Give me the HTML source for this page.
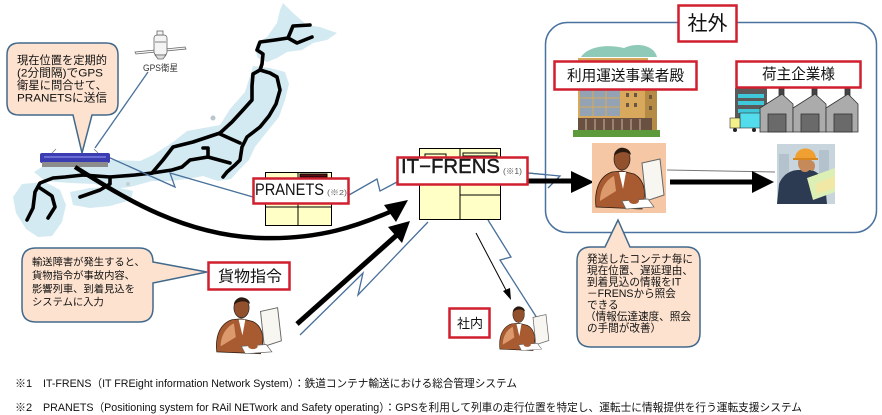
<!DOCTYPE html>
<html><head><meta charset="utf-8"><style>
html,body{margin:0;padding:0;background:#fff;}
svg{display:block;}
text{font-family:"Liberation Sans","Noto Sans CJK JP",sans-serif;}
</style></head><body>
<svg width="882" height="415" viewBox="0 0 882 415" xmlns="http://www.w3.org/2000/svg">
<rect width="882" height="415" fill="#fff"/>

<!-- Japan map land -->
<g fill="#d3eaf2">
<polygon points="283,3 293,13 307,25 320,27 337,33 327,40 313,43 302,50 287,52 277,58 267,62 258,58 255,50 257,43 267,37 277,23 280,10"/>
<polygon points="253,66 270,68 285,72 289,84 285,100 279,117 266,133 255,147 249,160 239,170 231,179 218,181 203,176 187,179 170,181 152,181 130,187 110,189 95,184 70,183 45,181 34,172 45,165 80,161 115,160 140,161 153,155 173,142 187,131 220,125 230,109 245,92 250,76"/>
<polygon points="22,184 45,182 60,190 66,205 62,222 52,236 38,237 26,229 16,213 13,197"/>
<polygon points="70,192 90,188 115,187 133,191 131,200 110,206 90,208 73,205"/>
</g>
<circle cx="213" cy="118" r="2.5" fill="#b9c6cc"/>
<circle cx="128" cy="184" r="2" fill="#c6cfd3"/>

<!-- rail lines -->
<g fill="none" stroke="#000" stroke-width="3.6" stroke-linejoin="round" stroke-linecap="round">
<polyline points="310,25 293,26 288,38 297,43 312,37"/>
<polyline points="288,38 275,40 260,42 257,50 263,54 262,64 260,70"/>
<polyline points="260,70 253,74 252,86 252,100 243,110 232,122 220,133 193,142 173,147 163,160 152,173"/>
<polyline points="260,70 270,73 277,77 280,90 276,104 269,116 260,127 247,137 242,147 240,160 235,165 227,172 223,177"/>
<polyline points="220,134 240,143"/>
<polyline points="203,148 208,148 208,157 230,163"/>
<polyline points="208,157 190,160 182,167 172,170 152,173"/>
<polyline points="152,173 135,175 110,177 83,175 65,177 53,178 40,183 35,192 33,208 27,220"/>
<polyline points="110,177 110,184 100,190 80,197"/>
<polyline points="40,188 52,196 55,207 48,218"/>
</g>

<!-- satellite -->
<g stroke="#666" stroke-width="0.8" fill="#f4f4f4">
<polygon points="135,52 185,47 186,49 136,54"/>
<rect x="154" y="35" width="13" height="20" rx="3"/>
<rect x="157" y="31" width="6" height="4"/>
<path d="M155,55 L166,55 L163,59 L158,59 Z" fill="#ddd"/>
<line x1="155" y1="42" x2="166" y2="42"/>
</g>
<text x="143" y="71" font-size="9" textLength="35" lengthAdjust="spacingAndGlyphs" fill="#333">GPS衛星</text>

<!-- blue lightning lines -->
<g fill="none" stroke="#48709a" stroke-width="1.3" stroke-linejoin="miter">
<polyline points="148,72 95,148"/>
<polyline points="108,157 175,187 170,173 253,197"/>
<polyline points="349,195 377,179 380,191 397,182"/>
<polyline points="528,173 560,176 548,188 595,188"/>
<polyline points="488,220 511,257 500,260 537,318"/>
<polyline points="300,335 363,273 358,295 428,222"/>
</g>

<!-- train -->
<g>
<rect x="40" y="153" width="70" height="10" rx="2" fill="#3b3bb2"/>
<rect x="44" y="156" width="62" height="2" fill="#6d6dd6"/>
<rect x="42" y="162" width="66" height="5" fill="#8c8c8c"/>
<line x1="52" y1="153" x2="56" y2="149" stroke="#777" stroke-width="0.8"/>
<line x1="98" y1="153" x2="94" y2="149" stroke="#777" stroke-width="0.8"/>
</g>

<!-- PRANETS server -->
<g stroke="#000" stroke-width="1">
<rect x="265.5" y="172.5" width="66" height="53" fill="#ffffc6"/>
<line x1="298" y1="172.5" x2="298" y2="225.5"/>
<line x1="265.5" y1="207" x2="331.5" y2="207"/>
<rect x="300" y="174" width="27" height="3" fill="#5a1010"/>
</g>

<!-- IT-FRENS server -->
<g stroke="#000" stroke-width="1">
<rect x="419.5" y="148.5" width="81" height="71" fill="#ffffc6"/>
<line x1="460" y1="148.5" x2="460" y2="219.5"/>
<line x1="460" y1="195" x2="500.5" y2="195"/>
<rect x="425" y="154" width="21" height="3" fill="none"/>
<rect x="463" y="153" width="34" height="3" fill="none"/>
</g>

<!-- thick arrows -->
<path d="M75,167 C120,195 180,235 260,238 C320,240 360,225 392,211" fill="none" stroke="#000" stroke-width="4.5"/>
<polygon points="408,200 384,205 396,222" fill="#000"/>
<line x1="297" y1="324" x2="398" y2="234" stroke="#000" stroke-width="5"/>
<polygon points="410,221 388,227 402,243" fill="#000"/>

<!-- thin black arrow -->
<line x1="476" y1="233" x2="507" y2="292" stroke="#000" stroke-width="1"/>
<polygon points="511,300 503,291 510,288" fill="#000"/>

<!-- 社外 box -->
<rect x="545.5" y="22.5" width="331" height="210" rx="22" fill="#fff" stroke="#4a72a0" stroke-width="1.5"/>
<polyline points="528,173 560,176 548,188" fill="none" stroke="#48709a" stroke-width="1.3"/>
<line x1="528" y1="181" x2="575" y2="181" stroke="#000" stroke-width="5"/>
<polygon points="571,171 594,182 571,193" fill="#000"/>
<line x1="667" y1="170" x2="775" y2="172" stroke="#777" stroke-width="1"/>
<line x1="670" y1="182" x2="755" y2="182" stroke="#000" stroke-width="5"/>
<polygon points="752,171 774,182 752,193" fill="#000"/>

<!-- building -->
<g>
<path d="M581,57 C588,46 608,44 624,48 C640,41 655,47 657,57 Z" fill="#8fcab8"/>
<rect x="578" y="58" width="70" height="72" fill="#d8a85c"/>
<rect x="645" y="68" width="12" height="62" fill="#b58a45"/>
<rect x="580" y="90" width="40" height="26" fill="#93a3b3"/>
<g stroke="#d8a85c" stroke-width="1"><line x1="580" y1="98" x2="620" y2="98"/><line x1="580" y1="107" x2="620" y2="107"/><line x1="593" y1="90" x2="593" y2="116"/><line x1="606" y1="90" x2="606" y2="116"/></g>
<g fill="#6b5540"><rect x="626" y="93" width="3" height="4"/><rect x="634" y="93" width="3" height="4"/><rect x="626" y="103" width="3" height="4"/><rect x="634" y="103" width="3" height="4"/><rect x="649" y="95" width="3" height="4"/><rect x="649" y="106" width="3" height="4"/></g>
<rect x="578" y="118" width="74" height="12" fill="#6a5040"/>
<g stroke="#c8b8a0" stroke-width="1"><line x1="586" y1="119" x2="586" y2="130"/><line x1="595" y1="119" x2="595" y2="130"/><line x1="604" y1="119" x2="604" y2="130"/><line x1="613" y1="119" x2="613" y2="130"/><line x1="622" y1="119" x2="622" y2="130"/><line x1="631" y1="119" x2="631" y2="130"/><line x1="640" y1="119" x2="640" y2="130"/></g>
<rect x="573" y="130" width="87" height="7" fill="#5c9a3c"/>
</g>

<!-- factory -->
<g>
<rect x="735" y="88" width="32" height="34" fill="#5a5a5a"/>
<g fill="#3fc8da"><rect x="738" y="94" width="26" height="4"/><rect x="738" y="101" width="26" height="4"/><rect x="738" y="109" width="26" height="4"/></g>
<g stroke="#333" stroke-width="0.8">
<rect x="779" y="86" width="5" height="12" fill="#444"/><rect x="812" y="86" width="5" height="12" fill="#444"/><rect x="845" y="86" width="5" height="12" fill="#444"/>
<polygon points="760,132 760,108 782,94 793,104 793,132" fill="#ababab"/>
<polygon points="793,132 793,108 815,94 826,104 826,132" fill="#ababab"/>
<polygon points="826,132 826,108 848,94 858,104 858,132" fill="#ababab"/>
<rect x="768" y="114" width="18" height="18" fill="#6a6a6a"/>
<rect x="801" y="114" width="18" height="18" fill="#6a6a6a"/>
<rect x="834" y="114" width="18" height="18" fill="#6a6a6a"/>
</g>
<rect x="740" y="113" width="20" height="15" fill="#52dcec" stroke="#333" stroke-width="0.6"/>
<rect x="730" y="118" width="10" height="10" fill="#f4f08a" stroke="#333" stroke-width="0.6"/>
<circle cx="735" cy="130" r="2" fill="#222"/><circle cx="754" cy="130" r="2" fill="#222"/>
</g>

<!-- operator 社外 -->
<g transform="translate(592,143)">
<rect x="0" y="0" width="74" height="70" fill="#f6c7a4"/>
<path d="M4,64 C2,46 8,33 20,29 L30,28 L42,31 C50,35 54,45 52,56 L50,66 Z" fill="#a85a30" stroke="#2a1a10" stroke-width="0.8"/>
<path d="M8,58 C8,46 14,37 22,33 L24,48 Z" fill="#dc9a6c"/>
<polygon points="27,29 34,29 31,46" fill="#fff"/>
<ellipse cx="30" cy="16" rx="8" ry="11" fill="#93502c" stroke="#222" stroke-width="0.7"/>
<path d="M22,13 C22,3 38,2 39,12 C35,8 27,8 22,13 Z" fill="#2a1a10"/>
<path d="M50,20 L68,16 L72,52 L54,58 Z" fill="#f8f6f0" stroke="#666" stroke-width="1"/>
<polygon points="30,58 56,56 62,64 34,66" fill="#fff" stroke="#666" stroke-width="0.7"/>
<ellipse cx="42" cy="58" rx="5" ry="3" fill="#a85a30"/>
</g>

<!-- helmet man -->
<g transform="translate(777,144)">
<rect x="0" y="0" width="58" height="60" fill="#c9d5dd"/>
<rect x="2" y="10" width="10" height="40" fill="#b3c2cd"/>
<rect x="42" y="6" width="10" height="30" fill="#b3c2cd"/>
<path d="M0,60 L2,40 C6,30 14,26 22,26 L34,26 C42,28 46,34 48,40 L50,60 Z" fill="#2c3a52"/>
<ellipse cx="28" cy="19" rx="7" ry="9" fill="#c68a5a"/>
<path d="M18,15 C18,1 39,1 39,15 Z" fill="#f0a030"/>
<rect x="16" y="14" width="25" height="2" fill="#d8861e"/>
<ellipse cx="35" cy="22" rx="3" ry="5" fill="#c68a5a"/>
<polygon points="30,34 58,24 58,48 36,56" fill="#dcefb4"/>
<polygon points="38,40 58,32 58,44 40,50" fill="#f2e8a6"/>
</g>

<!-- operator 貨物指令 -->
<g transform="translate(213,293) scale(0.95,0.92)">
<path d="M4,64 C2,46 8,33 20,29 L30,28 L42,31 C50,35 54,45 52,56 L50,66 Z" fill="#a85a30" stroke="#2a1a10" stroke-width="0.8"/>
<path d="M8,58 C8,46 14,37 22,33 L24,48 Z" fill="#dc9a6c"/>
<polygon points="27,29 34,29 31,46" fill="#fff"/>
<ellipse cx="30" cy="16" rx="8" ry="11" fill="#93502c" stroke="#222" stroke-width="0.7"/>
<path d="M22,13 C22,3 38,2 39,12 C35,8 27,8 22,13 Z" fill="#2a1a10"/>
<path d="M50,20 L68,16 L72,52 L54,58 Z" fill="#f8f6f0" stroke="#666" stroke-width="1"/>
<polygon points="30,58 56,56 62,64 34,66" fill="#fff" stroke="#666" stroke-width="0.7"/>
<ellipse cx="42" cy="58" rx="5" ry="3" fill="#a85a30"/>
</g>

<!-- operator 社内 -->
<g transform="translate(497,303) scale(0.72,0.72)">
<path d="M4,64 C2,46 8,33 20,29 L30,28 L42,31 C50,35 54,45 52,56 L50,66 Z" fill="#a85a30" stroke="#2a1a10" stroke-width="0.8"/>
<path d="M8,58 C8,46 14,37 22,33 L24,48 Z" fill="#dc9a6c"/>
<polygon points="27,29 34,29 31,46" fill="#fff"/>
<ellipse cx="30" cy="16" rx="8" ry="11" fill="#93502c" stroke="#222" stroke-width="0.7"/>
<path d="M22,13 C22,3 38,2 39,12 C35,8 27,8 22,13 Z" fill="#2a1a10"/>
<path d="M50,20 L68,16 L72,52 L54,58 Z" fill="#f8f6f0" stroke="#666" stroke-width="1"/>
<polygon points="30,58 56,56 62,64 34,66" fill="#fff" stroke="#666" stroke-width="0.7"/>
<ellipse cx="42" cy="58" rx="5" ry="3" fill="#a85a30"/>
</g>

<!-- speech bubbles -->
<g fill="#fde2cf" stroke="#41698c" stroke-width="1.5">
<path d="M19,43 H106 Q118,43 118,55 V103 Q118,115 106,115 H92 L82,153 L73,115 H19 Q7,115 7,103 V55 Q7,43 19,43 Z"/>
<path d="M36,248 H139 Q153,248 153,262 L207,272 L153,283 V308 Q153,322 139,322 H36 Q22,322 22,308 V262 Q22,248 36,248 Z"/>
<path d="M591,247 H605 L618,220 L630,247 H686 Q700,247 700,261 V333 Q700,347 686,347 H591 Q577,347 577,333 V261 Q577,247 591,247 Z"/>
</g>
<g font-size="11.2" fill="#111">
<text x="17" y="64" textLength="90" lengthAdjust="spacingAndGlyphs">現在位置を定期的</text>
<text x="17" y="76.5" textLength="86" lengthAdjust="spacingAndGlyphs">(2分間隔)でGPS</text>
<text x="17" y="89" textLength="90" lengthAdjust="spacingAndGlyphs">衛星に問合せて、</text>
<text x="17" y="101.5" textLength="90" lengthAdjust="spacingAndGlyphs">PRANETSに送信</text>
</g>
<g font-size="10.3" fill="#111">
<text x="32" y="265.5">輸送障害が発生すると、</text>
<text x="32" y="279">貨物指令が事故内容、</text>
<text x="32" y="292.3">影響列車、到着見込を</text>
<text x="32" y="305.6">システムに入力</text>
</g>
<g font-size="10.6" fill="#111">
<text x="587" y="262.3">発送したコンテナ毎に</text>
<text x="587" y="273.8">現在位置、遅延理由、</text>
<text x="587" y="285.3">到着見込の情報をIT</text>
<text x="587" y="296.8">－FRENSから照会</text>
<text x="587" y="308.3">できる</text>
<text x="585" y="319.8">（情報伝達速度、照会</text>
<text x="587" y="331.3">の手間が改善）</text>
</g>

<!-- red labels -->
<g fill="#fff" stroke="#d01f2f" stroke-width="2.5">
<rect x="678.5" y="5.5" width="58" height="36"/>
<rect x="554.5" y="61.5" width="142" height="28"/>
<rect x="736.5" y="61.5" width="124" height="26"/>
<rect x="397.5" y="157.5" width="130" height="27"/>
<rect x="253.5" y="178.5" width="95" height="25"/>
<rect x="208.5" y="262.5" width="81" height="27"/>
<rect x="449.5" y="308.5" width="40" height="29"/>
</g>
<text x="707.5" y="30" font-size="20" text-anchor="middle" fill="#111">社外</text>
<text x="567" y="80.5" font-size="14.6" textLength="117" lengthAdjust="spacingAndGlyphs" fill="#111">利用運送事業者殿</text>
<text x="762" y="79" font-size="14.6" textLength="73" lengthAdjust="spacingAndGlyphs" fill="#111">荷主企業様</text>
<text x="401" y="173" font-size="20" textLength="99" lengthAdjust="spacingAndGlyphs" fill="#1a1a1a" stroke="#1a1a1a" stroke-width="0.4">IT−FRENS</text>
<text x="503" y="174" font-size="8" textLength="19" lengthAdjust="spacingAndGlyphs" fill="#555">(※1)</text>
<text x="255" y="195" font-size="16.5" textLength="69" lengthAdjust="spacingAndGlyphs" fill="#111">PRANETS</text>
<text x="327" y="195" font-size="7.5" textLength="20" lengthAdjust="spacingAndGlyphs" fill="#555">(※2)</text>
<text x="218" y="281.5" font-size="15.5" textLength="64" lengthAdjust="spacingAndGlyphs" fill="#111">貨物指令</text>
<text x="457" y="328" font-size="13" textLength="26" lengthAdjust="spacingAndGlyphs" fill="#111">社内</text>

<!-- footnotes -->
<g font-size="11" fill="#111">
<text x="15" y="387">※1</text>
<text x="43" y="387" textLength="474" lengthAdjust="spacingAndGlyphs">IT-FRENS（IT FREight information Network System）：鉄道コンテナ輸送における総合管理システム</text>
<text x="15" y="411">※2</text>
<text x="43" y="411" textLength="759" lengthAdjust="spacingAndGlyphs">PRANETS（Positioning system for RAil NETwork and Safety operating）：GPSを利用して列車の走行位置を特定し、運転士に情報提供を行う運転支援システム</text>
</g>
</svg>
</body></html>
